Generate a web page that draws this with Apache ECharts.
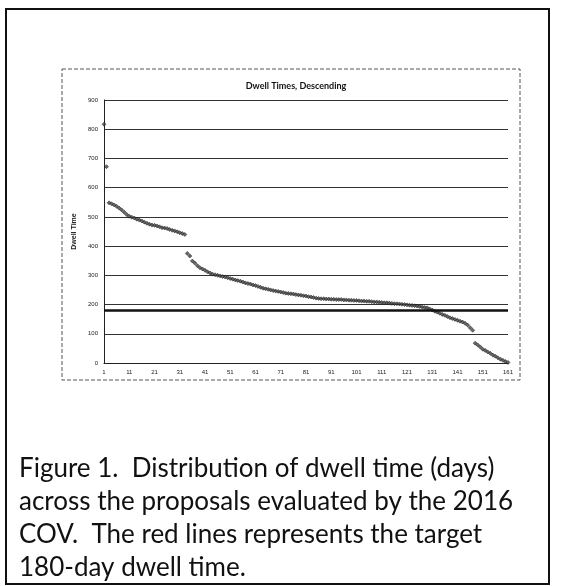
<!DOCTYPE html>
<html lang="en">
<head>
    <meta charset="UTF-8">
    <title>Dwell Times, Descending</title>
    <script src="https://cdn.jsdelivr.net/npm/echarts@6/dist/echarts.min.js"></script>
    <style>
        html, body { margin: 0; padding: 0; background: #fff; }
        #main { width: 565px; height: 586px; }
    </style>
</head>
<body>
<div id="main"></div>

<script type="text/javascript">
    // dwell time (days) per proposal, sorted descending
    var dwellTimes = [
        817, 672, 548, 545, 541, 536, 530, 524, 516, 508,
        502, 499, 496, 492, 489, 486, 482, 478, 475, 472,
        471, 469, 466, 463, 462, 460, 457, 454, 452, 449,
        446, 443, 440, 375, 366, 349, 342, 333, 326, 322,
        317, 312, 308, 304, 302, 300, 298, 296, 294, 292,
        289, 287, 284, 282, 280, 277, 274, 272, 270, 267,
        265, 262, 259, 256, 254, 252, 250, 248, 246, 245,
        243, 241, 239, 238, 237, 236, 234, 233, 232, 230,
        229, 227, 226, 224, 222, 221, 220, 220, 219, 219,
        218, 218, 217, 217, 217, 216, 216, 215, 215, 214,
        214, 213, 212, 212, 211, 211, 210, 209, 209, 208,
        207, 206, 206, 205, 204, 203, 203, 202, 201, 200,
        199, 198, 197, 196, 195, 193, 192, 190, 189, 185,
        181, 177, 174, 170, 166, 163, 159, 155, 152, 149,
        146, 143, 140, 136, 130, 121, 112, 68, 62, 55,
        47, 43, 38, 33, 27, 23, 18, 13, 9, 5,
        2
    ];
    var targetDays = 180;
    var yTicks = [0, 100, 200, 300, 400, 500, 600, 700, 800, 900];
    var captionLines = [
        'Figure 1.  Distribution of dwell time (days)',
        'across the proposals evaluated by the 2016',
        'COV.  The red lines represents the target',
        '180-day dwell time.'
    ];

    // proposal rank labels 1..n
    var ranks = [];
    for (var i = 0; i < dwellTimes.length; i++) {
        ranks.push(String(i + 1));
    }

    var myChart = echarts.init(document.getElementById('main'), null, {renderer: 'canvas'});

    var captionGraphics = captionLines.map(function (line, k) {
        return {
            type: 'text',
            left: 19,
            top: 456 + k * 33,
            style: {
                text: line,
                font: '26px Lato',
                fill: '#111'
            }
        };
    });

    var option = {
        backgroundColor: '#fff',
        animation: false,
        title: {
            text: 'Dwell Times, Descending',
            left: 291,
            top: 77,
            textAlign: 'center',
            textStyle: {fontSize: 9, fontWeight: 'bold', color: '#111', fontFamily: 'Lato'}
        },
        grid: {left: 104, right: 57, top: 100, bottom: 223},
        xAxis: {
            type: 'category',
            data: ranks,
            boundaryGap: false,
            axisLine: {lineStyle: {color: '#222', width: 1}},
            axisTick: {show: false},
            axisLabel: {interval: 9, fontSize: 6, color: '#222', margin: 6}
        },
        yAxis: {
            type: 'value',
            min: yTicks[0],
            max: yTicks[yTicks.length - 1],
            interval: 100,
            name: 'Dwell Time',
            nameLocation: 'middle',
            nameGap: 19,
            nameTextStyle: {fontSize: 7, fontWeight: 'bold', color: '#222'},
            axisLine: {show: true, lineStyle: {color: '#222', width: 1}},
            axisTick: {show: false},
            axisLabel: {fontSize: 6, color: '#222', margin: 6},
            splitLine: {lineStyle: {color: '#333', width: 1}}
        },
        series: [{
            type: 'scatter',
            data: dwellTimes,
            symbol: 'diamond',
            symbolSize: 4,
            itemStyle: {color: '#444', borderColor: '#111', borderWidth: 0.6},
            markLine: {
                silent: true,
                symbol: 'none',
                label: {show: false},
                lineStyle: {color: '#111', width: 2.5, type: 'solid'},
                data: [{yAxis: targetDays}]
            }
        }],
        graphic: [
            {
                type: 'rect',
                shape: {x: 6, y: 9, width: 543, height: 575},
                style: {fill: 'none', stroke: '#111', lineWidth: 2}
            },
            {
                type: 'rect',
                shape: {x: 62, y: 69, width: 458, height: 311},
                style: {fill: 'none', stroke: '#555', lineWidth: 1, lineDash: [4, 2]}
            }
        ].concat(captionGraphics)
    };

    myChart.setOption(option);
</script>

</body>
</html>
